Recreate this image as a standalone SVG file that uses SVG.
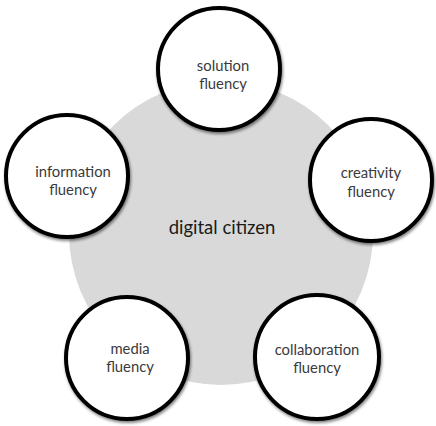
<svg xmlns="http://www.w3.org/2000/svg" width="436" height="426" viewBox="0 0 436 426">
<style>
.node circle{fill:#fff;stroke:#000;stroke-width:4;filter:url(#sh)}
.lbl{font-family:Lato,"Open Sans","Liberation Sans",sans-serif;font-size:14.8px;fill:#3a3a3a;text-anchor:middle}
.center{font-family:Lato,"Open Sans","Liberation Sans",sans-serif;font-size:18.5px;fill:#1a1a1a;text-anchor:middle}
</style>
<defs>
<filter id="sh" x="-20%" y="-20%" width="140%" height="140%">
<feGaussianBlur in="SourceAlpha" stdDeviation="1.5"/>
<feOffset dx="1" dy="1.5" result="b"/>
<feComponentTransfer><feFuncA type="linear" slope="0.5"/></feComponentTransfer>
<feMerge><feMergeNode/><feMergeNode in="SourceGraphic"/></feMerge>
</filter>
</defs>
<rect width="436" height="426" fill="#fff"/>
<g id="digital-citizen">
<circle cx="221" cy="233" r="152" fill="#d9d9d9"/>
<text class="center" x="222" y="234">digital citizen</text>
</g>
<g id="connectors"></g>
<g id="solution" class="node">
<circle cx="219" cy="69" r="61"/>
<text class="lbl" x="223" y="71">solution</text>
<text class="lbl" x="223" y="89">fluency</text>
</g>
<g id="information" class="node">
<circle cx="67" cy="176" r="61"/>
<text class="lbl" x="73" y="177">information</text>
<text class="lbl" x="73" y="195">fluency</text>
</g>
<g id="creativity" class="node">
<circle cx="371" cy="180" r="61"/>
<text class="lbl" x="371" y="178">creativity</text>
<text class="lbl" x="371" y="197">fluency</text>
</g>
<g id="media" class="node">
<circle cx="127" cy="358" r="61"/>
<text class="lbl" x="130" y="354">media</text>
<text class="lbl" x="130" y="372">fluency</text>
</g>
<g id="collaboration" class="node">
<circle cx="317" cy="357" r="62"/>
<text class="lbl" x="317" y="355">collaboration</text>
<text class="lbl" x="317" y="373">fluency</text>
</g>
</svg>
